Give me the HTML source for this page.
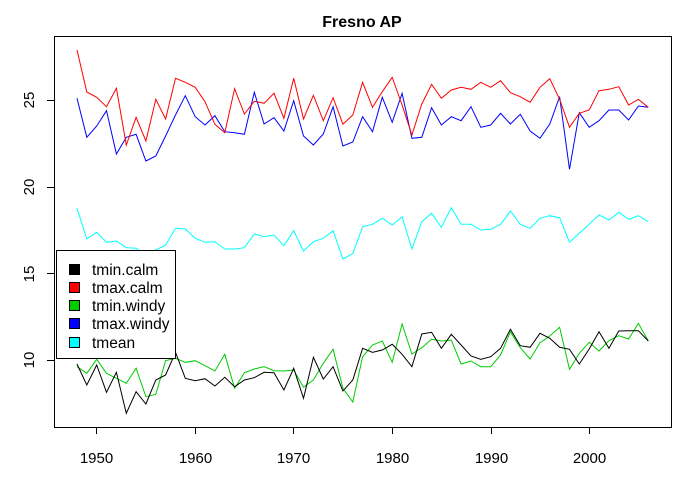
<!DOCTYPE html>
<html><head><meta charset="utf-8"><style>
html,body{margin:0;padding:0;background:#fff}
svg text{font-family:"Liberation Sans",Arial,sans-serif}
</style></head><body>
<svg id="s" width="689" height="481" xmlns="http://www.w3.org/2000/svg">
<rect width="689" height="481" fill="#fff"/>
<text x="362" y="27" font-size="16" font-weight="bold" text-anchor="middle">Fresno AP</text>
<rect x="54.5" y="36.5" width="617" height="391" fill="none" stroke="#000" stroke-width="1"/>
<g stroke="#000" stroke-width="1">
<line x1="96.5" y1="427" x2="96.5" y2="434"/><line x1="195.5" y1="427" x2="195.5" y2="434"/>
<line x1="293.5" y1="427" x2="293.5" y2="434"/><line x1="392.5" y1="427" x2="392.5" y2="434"/>
<line x1="491.5" y1="427" x2="491.5" y2="434"/><line x1="589.5" y1="427" x2="589.5" y2="434"/>
<line x1="47" y1="360.5" x2="54" y2="360.5"/><line x1="47" y1="273.5" x2="54" y2="273.5"/>
<line x1="47" y1="187.5" x2="54" y2="187.5"/><line x1="47" y1="100.5" x2="54" y2="100.5"/>
</g>
<g font-size="15" text-anchor="middle">
<text x="96.5" y="463">1950</text><text x="195.5" y="463">1960</text><text x="293.5" y="463">1970</text>
<text x="392.5" y="463">1980</text><text x="491.5" y="463">1990</text><text x="589.5" y="463">2000</text>
<text transform="translate(34,360) rotate(-90)">10</text>
<text transform="translate(34,274) rotate(-90)">15</text>
<text transform="translate(34,187) rotate(-90)">20</text>
<text transform="translate(34,100) rotate(-90)">25</text>
</g>
<g id="lines" fill="none" stroke-width="1"></g>
<rect x="56.5" y="250.5" width="119" height="108" fill="#fff" stroke="#000"/>
<g stroke="#000" stroke-width="1">
<rect x="69.5" y="264.5" width="10" height="10" fill="#000"/>
<rect x="69.5" y="282.5" width="10" height="10" fill="#f00"/>
<rect x="69.5" y="300.5" width="10" height="10" fill="#0c0"/>
<rect x="69.5" y="318.5" width="10" height="10" fill="#00f"/>
<rect x="69.5" y="337.5" width="10" height="10" fill="#0ff"/>
</g>
<g font-size="15.5">
<text x="92" y="275">tmin.calm</text>
<text x="92" y="293">tmax.calm</text>
<text x="92" y="311">tmin.windy</text>
<text x="92" y="329">tmax.windy</text>
<text x="92" y="348">tmean</text>
</g>
</svg>
<script>
function X(i){return 77+i*9.85;}
var S={
"#f00":[50,92,97.3,106.7,88.3,145,117.3,141,99.3,119,78.3,82.3,87.3,101.7,124.3,132.7,88.7,114,101.3,103.3,93.3,118.3,78.3,119,95.3,120.7,97.7,124.3,115,82.3,107.3,91.7,77.3,105,135,104,84.3,98.3,90,87.3,89.3,82.3,87.3,80.7,92.7,96.7,102.3,87.3,78.7,99.3,127.3,113.3,110,90.7,89.3,86.7,105,99.3,107.3],
"#00f":[98.3,137.3,126,110.7,154,137.3,134.3,161,156,136,115,95.7,116.7,125,115.7,131.7,132.7,134.3,92.3,124,117.7,131,100.7,136,145,134,106.7,146,142,116.7,131.7,97.3,122.3,93.3,138.3,137.3,107.7,125,116.7,120.7,106.7,127.3,125,113.3,124,114.3,131,138.3,124,96.7,169.3,112.7,127.3,120.7,110,110,120,106,107.3],
"#0ff":[208.3,239,232.3,242.3,241,247.7,248.3,255,250,245,228.3,229,238.3,242.3,241.7,249,249,247.7,234,236.7,235,245.7,230.7,251,241.7,238.3,230.7,259,253.7,226.7,224.3,218.3,225,216.7,249,221.7,213.3,227.3,207.7,224.3,224.3,230,229.3,224.3,211,224.3,228.3,218.3,215.7,217.7,242.3,233.3,224.3,215,220,212.3,219.3,215.7,221.7],
"#000":[364,385,365,392.3,372.3,413.3,391.7,404,380,375,352.3,378.3,380.7,378.7,386,377.3,386.7,380,377.7,372.3,372.7,390,368.3,398.3,357.3,379,366.7,391,380,348.3,352.3,350,344.3,354.3,366.7,334,332.3,348.3,334.3,345,356,359.3,356.7,348.3,329.3,345.7,347.3,333.3,338.3,347.3,349.3,364,349,331.7,348.3,331,330.7,330.7,341],
"#0c0":[366.7,373.3,359.3,373.3,378.3,383.3,368.3,396.7,394.3,360.7,358.3,362.3,360.7,365.7,371,354.3,388.3,372.7,369,366.7,370.7,371,370,387.3,380,363.3,349.3,388.3,402,356.7,345,341,362.3,324,354,347.7,339.3,341,340,364,361,366.7,366.7,355,331.7,347.7,359,342.7,336,327.3,369.3,353.3,342.3,351,340.7,335.7,339,323.3,341]
};
var g=document.getElementById("lines"),h="";
["#0ff","#00f","#f00","#0c0","#000"].forEach(function(c){
var p=S[c].map(function(v,i){return X(i).toFixed(1)+","+v;}).join(" ");
h+='<polyline stroke="'+c+'" points="'+p+'"/>';});
g.innerHTML=h;
</script>
</body></html>
